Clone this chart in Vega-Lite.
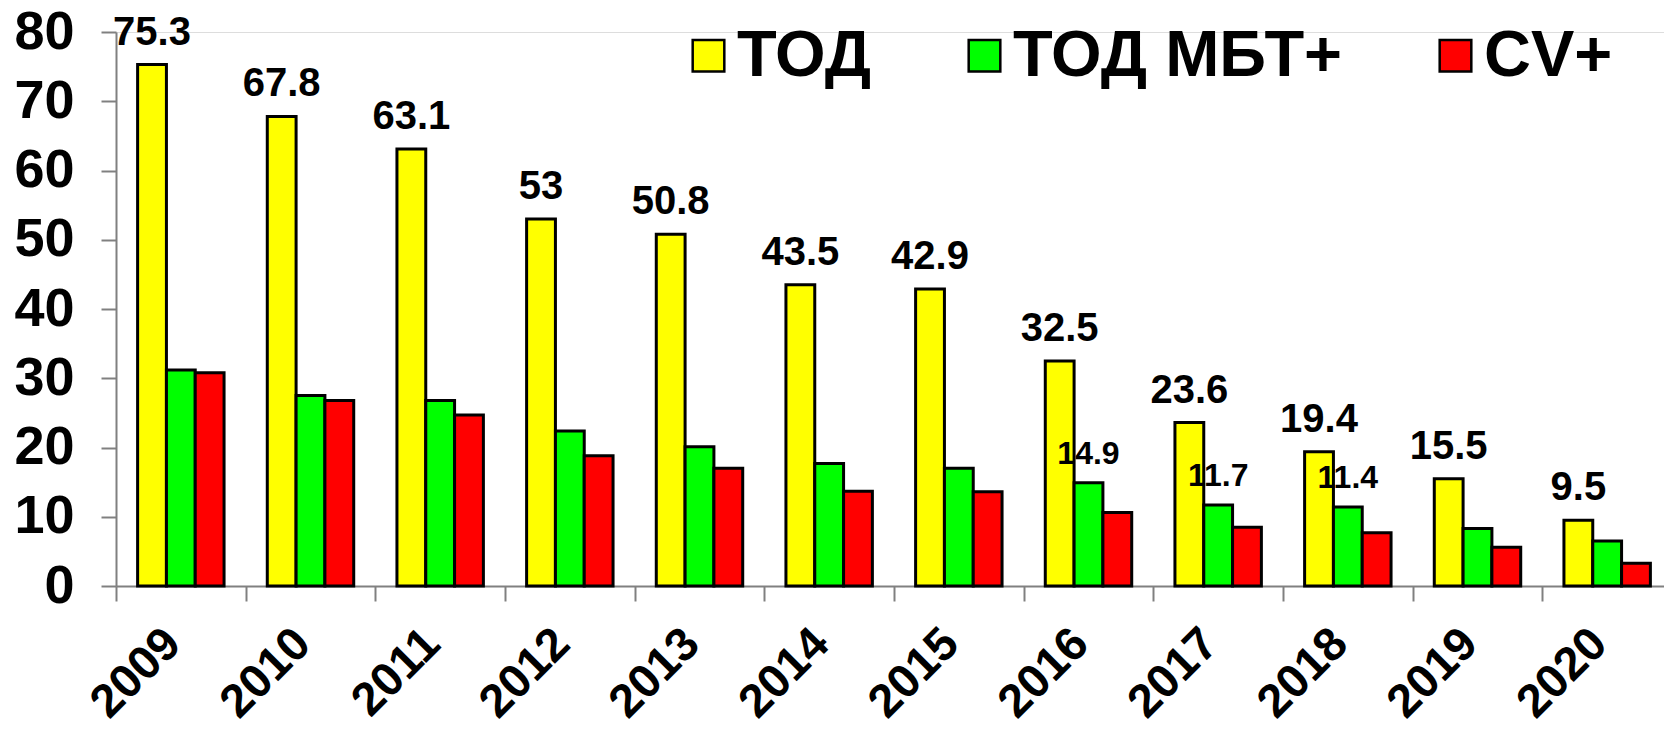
{
  "$schema": "https://vega.github.io/schema/vega-lite/v6.json",
  "autosize": {"type": "none"},
  "padding": {"left": 116, "top": 32, "right": 0, "bottom": 149},
  "width": 1548,
  "height": 554,
  "background": "white",
  "data": {
    "values": [
      {"year": "2009", "series": "ТОД", "value": 75.3, "lab": "75.3"},
      {"year": "2009", "series": "ТОД МБТ+", "value": 31.2},
      {"year": "2009", "series": "CV+", "value": 30.8},
      {"year": "2010", "series": "ТОД", "value": 67.8, "lab": "67.8"},
      {"year": "2010", "series": "ТОД МБТ+", "value": 27.5},
      {"year": "2010", "series": "CV+", "value": 26.8},
      {"year": "2011", "series": "ТОД", "value": 63.1, "lab": "63.1"},
      {"year": "2011", "series": "ТОД МБТ+", "value": 26.8},
      {"year": "2011", "series": "CV+", "value": 24.7},
      {"year": "2012", "series": "ТОД", "value": 53, "lab": "53"},
      {"year": "2012", "series": "ТОД МБТ+", "value": 22.4},
      {"year": "2012", "series": "CV+", "value": 18.8},
      {"year": "2013", "series": "ТОД", "value": 50.8, "lab": "50.8"},
      {"year": "2013", "series": "ТОД МБТ+", "value": 20.1},
      {"year": "2013", "series": "CV+", "value": 17.0},
      {"year": "2014", "series": "ТОД", "value": 43.5, "lab": "43.5"},
      {"year": "2014", "series": "ТОД МБТ+", "value": 17.7},
      {"year": "2014", "series": "CV+", "value": 13.7},
      {"year": "2015", "series": "ТОД", "value": 42.9, "lab": "42.9"},
      {"year": "2015", "series": "ТОД МБТ+", "value": 17.0},
      {"year": "2015", "series": "CV+", "value": 13.6},
      {"year": "2016", "series": "ТОД", "value": 32.5, "lab": "32.5"},
      {"year": "2016", "series": "ТОД МБТ+", "value": 14.9, "lab2": "14.9"},
      {"year": "2016", "series": "CV+", "value": 10.6},
      {"year": "2017", "series": "ТОД", "value": 23.6, "lab": "23.6"},
      {"year": "2017", "series": "ТОД МБТ+", "value": 11.7, "lab2": "11.7"},
      {"year": "2017", "series": "CV+", "value": 8.5},
      {"year": "2018", "series": "ТОД", "value": 19.4, "lab": "19.4"},
      {"year": "2018", "series": "ТОД МБТ+", "value": 11.4, "lab2": "11.4"},
      {"year": "2018", "series": "CV+", "value": 7.7},
      {"year": "2019", "series": "ТОД", "value": 15.5, "lab": "15.5"},
      {"year": "2019", "series": "ТОД МБТ+", "value": 8.3},
      {"year": "2019", "series": "CV+", "value": 5.6},
      {"year": "2020", "series": "ТОД", "value": 9.5, "lab": "9.5"},
      {"year": "2020", "series": "ТОД МБТ+", "value": 6.5},
      {"year": "2020", "series": "CV+", "value": 3.3}
    ]
  },
  "encoding": {
    "x": {
      "field": "year", "type": "nominal", "sort": null,
      "scale": {"range": [0, 1556], "paddingInner": 0, "paddingOuter": 0},
      "axis": {
        "title": null,
        "tickBand": "extent",
        "tickSize": 15,
        "tickColor": "#808080",
        "tickWidth": 2,
        "domainColor": "#808080",
        "domainWidth": 2,
        "labelAngle": -45,
        "labelAlign": "right",
        "labelBaseline": "middle",
        "labelPadding": 35,
        "labelOffset": -8,
        "labelFont": "Liberation Sans",
        "labelFontWeight": "bold",
        "labelFontSize": 47,
        "labelColor": "black",
        "labelLimit": 0
      }
    },
    "xOffset": {
      "field": "series", "type": "nominal",
      "scale": {"domain": ["ТОД", "ТОД МБТ+", "CV+"], "paddingInner": 0, "paddingOuter": 0.75}
    },
    "y": {
      "field": "value", "type": "quantitative",
      "scale": {"domain": [0, 80], "nice": false},
      "axis": {
        "title": null,
        "values": [0, 10, 20, 30, 40, 50, 60, 70, 80],
        "grid": false,
        "tickSize": 15,
        "tickColor": "#808080",
        "tickWidth": 2,
        "domainColor": "#808080",
        "domainWidth": 2,
        "labelPadding": 27,
        "labelFont": "Liberation Sans",
        "labelFontWeight": "bold",
        "labelFontSize": 54,
        "labelColor": "black"
      }
    }
  },
  "layer": [
    {
      "mark": {"type": "bar", "stroke": "black", "strokeWidth": 3, "opacity": 1},
      "encoding": {
        "color": {
          "field": "series", "type": "nominal",
          "scale": {"domain": ["ТОД", "ТОД МБТ+", "CV+"], "range": ["#FFFF00", "#00FF00", "#FF0000"]},
          "legend": {
            "title": null,
            "orient": "none",
            "legendX": 560,
            "legendY": -9,
            "direction": "horizontal",
            "padding": 0,
            "labelFont": "Liberation Sans",
            "labelFontWeight": "bold",
            "labelFontSize": 65,
            "labelColor": "black",
            "labelLimit": 0,
            "labelOffset": -4,
            "columnPadding": 80,
            "symbolType": "square",
            "symbolSize": 1000,
            "symbolStrokeColor": "black",
            "symbolStrokeWidth": 2.5,
            "symbolOpacity": 1
          }
        }
      }
    },
    {
      "transform": [{"filter": "datum.lab != null"}],
      "mark": {"type": "text", "baseline": "alphabetic", "dy": -20, "font": "Liberation Sans", "fontWeight": "bold", "fontSize": 40, "color": "black"},
      "encoding": {"text": {"field": "lab"}}
    },
    {
      "transform": [{"filter": "datum.lab2 != null"}],
      "mark": {"type": "text", "baseline": "alphabetic", "dy": -19, "font": "Liberation Sans", "fontWeight": "bold", "fontSize": 32, "color": "black"},
      "encoding": {"text": {"field": "lab2"}}
    }
  ]
}
